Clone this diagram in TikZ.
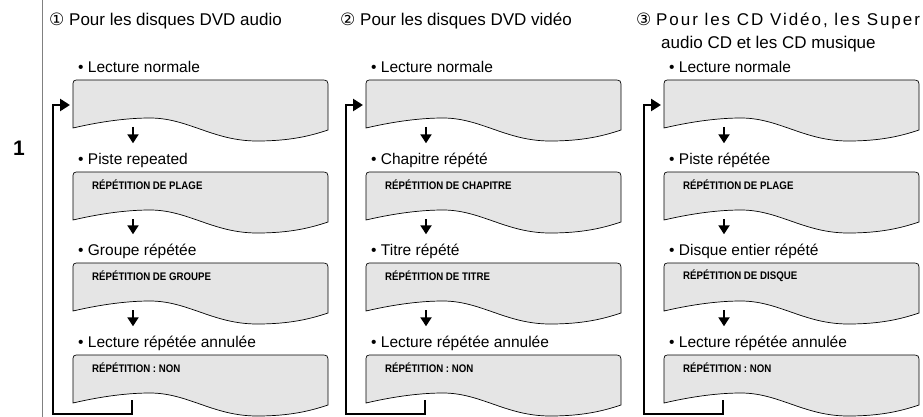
\documentclass[tikz,border=0pt]{standalone}
\usepackage{fontspec}
\setmainfont{Liberation Sans}
\newfontfamily\circfont{DejaVu Sans}
\newfontfamily\osdfont[FakeStretch=0.88]{Liberation Sans}
\usepackage{tikz}
\usetikzlibrary{arrows.meta,calc}

\begin{document}
\begin{tikzpicture}[x=1pt,y=-1pt,
  screen/.style={anchor=north west,minimum width=255pt,minimum height=50pt,inner sep=0pt,outer sep=0pt},
  screenline/.style={draw=black,line width=0.7pt,fill=black!10},
  item/.style={anchor=west,inner sep=1pt,text height=11pt,text depth=3pt,font=\fontsize{15.5}{18}\selectfont},
  osd/.style={anchor=west,inner sep=0pt,font=\osdfont\fontsize{11}{13}\selectfont\bfseries},
  head/.style={anchor=west,inner sep=0pt,font=\fontsize{17}{20}\selectfont},
  flow/.style={line width=2pt,-{Triangle[width=11pt,length=9pt]}},
  back/.style={line width=2.7pt,-{Triangle[width=12pt,length=10pt]}}]
\useasboundingbox (0,0) rectangle (923,417);

\draw[gray,line width=1pt] (42,0) -- (42,417);
\node[font=\fontsize{21}{24}\selectfont\bfseries] (sec) at (19,148) {1};

\node[head] (ha) at (49,21) {{\circfont ①} Pour les disques DVD audio};
\node[head] (hv) at (340,21) {{\circfont ②} Pour les disques DVD vidéo};
\node[head] (hc) at (636,21) {{\circfont ③} {\addfontfeatures{LetterSpace=11.5}Pour les CD Vidéo, les Super}};
\node[head] (hc2) at (661,44) {audio CD et les CD musique};

% screens: column / left edge, row / top edge
\foreach \c/\x in {a/73,v/366,c/664}{
  \foreach \r/\y in {1/80,2/172,3/263,4/355}{
    \node[screen] (s\c\r) at (\x,\y) {};
    \draw[screenline,shift={(s\c\r.north west)}] (0,48) -- (0,7) .. controls (0,0) .. (7,0)
      -- (247,0) .. controls (255,0) .. (255,8) -- (255,50)
      .. controls (237,56) and (217,61) .. (184,61)
      .. controls (140,61) and (115,38) .. (77,38)
      .. controls (56,38) and (30,41) .. (0,48) -- cycle;
  }
}

\foreach \c/\r/\t in {a/1/Lecture normale,a/2/Piste repeated,a/3/Groupe répétée,a/4/Lecture répétée annulée,
  v/1/Lecture normale,v/2/Chapitre répété,v/3/Titre répété,v/4/Lecture répétée annulée,
  c/1/Lecture normale,c/2/Piste répétée,c/3/Disque entier répété,c/4/Lecture répétée annulée}
  \node[item] (t\c\r) at ($(s\c\r.north west)+(4,-11.5)$) {\textbullet\ \t};

\foreach \c/\r/\t in {a/2/RÉPÉTITION DE PLAGE,a/3/RÉPÉTITION DE GROUPE,a/4/RÉPÉTITION : NON,
  v/2/RÉPÉTITION DE CHAPITRE,v/3/RÉPÉTITION DE TITRE,v/4/RÉPÉTITION : NON,
  c/2/RÉPÉTITION DE PLAGE,c/3/RÉPÉTITION DE DISQUE,c/4/RÉPÉTITION : NON}
  \node[osd] (o\c\r) at ($(s\c\r.north west)+(19,13)$) {\t};

\foreach \c in {a,v,c}{
  \foreach \r/\n in {1/2,2/3,3/4}{
    \coordinate (d\c\r) at ($(s\c\r.south west)+(60,-3)$);
    \draw[flow,shorten >=9pt] (d\c\r) -- (d\c\r |- t\c\n.north);
  }
  \coordinate (r\c) at ($(s\c4.south west)+(-20,9)$);
  \draw[back,shorten >=3pt] ($(s\c4.south west)+(59,-5)$) |- (r\c) |- (s\c1.west);
}
\end{tikzpicture}
\end{document}
